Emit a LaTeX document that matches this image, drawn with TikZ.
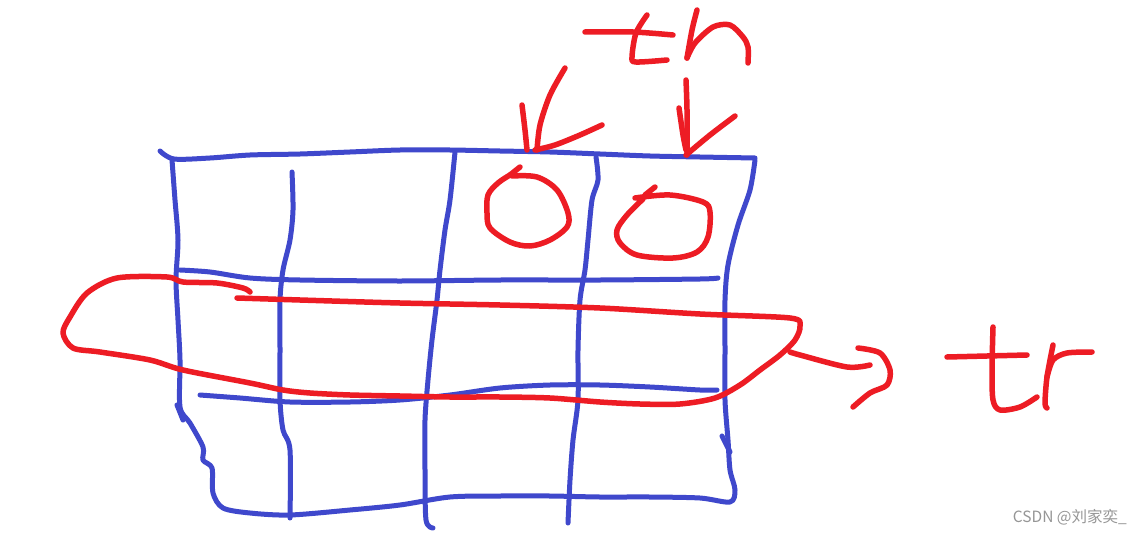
\documentclass[tikz,border=0pt]{standalone}
\usepackage{fontspec}
\newfontfamily\cjkfont{Noto Sans CJK SC}
\definecolor{penblue}{RGB}{63,72,204}
\definecolor{penred}{RGB}{237,28,36}
\definecolor{wmgray}{RGB}{150,150,150}
\begin{document}
\begin{tikzpicture}[x=1pt,y=-1pt,
  bluestroke/.style={draw=penblue,line width=5pt,line cap=round,line join=round},
  redstroke/.style={draw=penred,line width=5.5pt,line cap=round,line join=round}]
\useasboundingbox (0,0) rectangle (1142,535);
\fill[white] (0,0) rectangle (1142,535);
% ---- blue grid ----
% top edge
\draw[bluestroke] plot[smooth,tension=0.5] coordinates {(160,151) (174,159) (210,158) (250,155) (300,154) (350,152) (400,150) (450,150) (500,151) (550,152) (600,154) (650,156) (700,157) (755,158)};
% left edge + bottom + right edge
\draw[bluestroke] plot[smooth,tension=0.5] coordinates {(172,160) (175,200) (178,240) (176,280) (178,320) (180,360) (180,407) (190,423) (203,447) (203,460) (212,468) (213,493) (223,508) (250,513) (290,515) (350,510) (400,505) (450,497) (500,496) (550,496) (600,497) (650,497) (700,498) (730,502) (735,490) (730,470) (728,440) (725,400) (725,350) (725,300) (728,265) (738,225) (750,190) (755,160)};
\draw[bluestroke] (177,405) -- (183,420);
\draw[bluestroke] (722,436) -- (730,452);
% verticals
\draw[bluestroke] plot[smooth,tension=0.5] coordinates {(292,172) (293,210) (290,240) (283,270) (280,300) (280,350) (280,400) (283,430) (290,450) (290,518)};
\draw[bluestroke] plot[smooth,tension=0.5] coordinates {(455,152) (450,200) (445,230) (440,270) (437,300) (432,340) (428,380) (425,420) (425,470) (426,520) (433,528)};
\draw[bluestroke] plot[smooth,tension=0.5] coordinates {(596,157) (598,180) (592,200) (588,240) (585,270) (580,300) (578,350) (578,400) (573,440) (570,480) (568,523)};
% horizontals
\draw[bluestroke] plot[smooth,tension=0.5] coordinates {(180,270) (210,272) (250,278) (300,280) (400,281) (500,280) (600,280) (700,279) (718,278)};
\draw[bluestroke] plot[smooth,tension=0.5] coordinates {(200,395) (240,398) (290,402) (350,402) (400,400) (450,395) (500,388) (550,385) (600,385) (650,387) (700,390) (717,390)};
% ---- red marks ----
% circles
\draw[redstroke] (520,167) -- (510,175);
\draw[redstroke] plot[smooth,tension=0.55] coordinates {(512,176) (537,177) (557,190) (568,213) (567,227) (550,240) (530,246) (510,242) (490,228) (487,213) (488,195) (498,183) (510,175)};
\draw[redstroke] (655,187) -- (645,195);
\draw[redstroke] plot[smooth,tension=0.55] coordinates {(635,198) (670,195) (703,202) (710,212) (708,237) (697,252) (673,258) (637,255) (620,243) (617,230) (627,215) (643,199)};
% arrows to circles
\draw[redstroke] plot[smooth,tension=0.5] coordinates {(565,68) (550,95) (540,125) (537,150)};
\draw[redstroke] plot[smooth,tension=0.5] coordinates {(522,105) (525,130) (527,150)};
\draw[redstroke] plot[smooth,tension=0.5] coordinates {(602,125) (580,135) (555,145) (535,150)};
\draw[redstroke] plot[smooth,tension=0.5] coordinates {(686,80) (687,110) (687,155)};
\draw[redstroke] plot[smooth,tension=0.5] coordinates {(679,108) (683,135) (686,150)};
\draw[redstroke] plot[smooth,tension=0.5] coordinates {(735,116) (710,135) (686,155)};
% "th"
\draw[redstroke] plot[smooth,tension=0.5] coordinates {(585,32) (633,32) (673,35)};
\draw[redstroke] plot[smooth,tension=0.5] coordinates {(647,15) (636,33) (632,57) (636,62) (667,60)};
\draw[redstroke] plot[smooth,tension=0.5] coordinates {(697,10) (692,30) (687,58)};
\draw[redstroke] plot[smooth,tension=0.5] coordinates {(687,58) (695,43) (713,27) (730,25) (743,37) (748,47) (748,63)};
% big loop (row)
\draw[redstroke] plot[smooth,tension=0.5] coordinates {(237,298) (300,300) (400,303) (500,305) (600,308) (700,314) (790,318) (800,326) (795,340) (780,355) (760,370) (740,385) (715,398) (680,404) (640,404) (600,402) (550,398) (500,397) (450,397) (400,396) (350,395) (310,393) (283,390) (250,383) (183,370) (150,360) (100,352) (73,348) (63,333) (70,317) (87,293) (117,278) (167,277) (183,282) (217,283) (243,288) (250,292)};
% arrow to tr
\draw[redstroke] plot[smooth,tension=0.5] coordinates {(790,352) (800,355) (847,367) (870,365)};
\draw[redstroke] plot[smooth,tension=0.5] coordinates {(858,348) (880,353) (890,370) (887,385) (870,393) (853,407)};
% "tr"
\draw[redstroke] plot[smooth,tension=0.5] coordinates {(947,357) (1027,355)};
\draw[redstroke] plot[smooth,tension=0.5] coordinates {(993,327) (992,370) (993,400) (1000,410) (1020,407) (1037,397)};
\draw[redstroke] plot[smooth,tension=0.5] coordinates {(1053,345) (1047,377) (1045,403) (1047,408)};
\draw[redstroke] plot[smooth,tension=0.5] coordinates {(1047,377) (1053,360) (1067,353) (1092,352)};
% watermark
\node[anchor=east,inner sep=0pt,text=wmgray,font=\cjkfont\fontsize{15.5}{18}\selectfont] (wm) at (1127,517) {CSDN @刘家奕\_};
\end{tikzpicture}
\end{document}
